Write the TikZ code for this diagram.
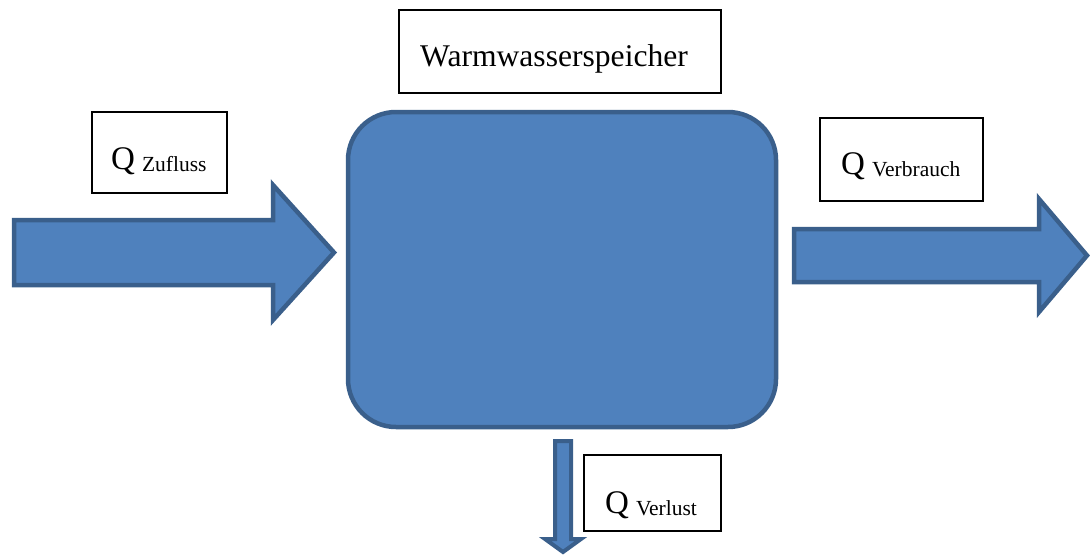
\documentclass[tikz,border=0pt]{standalone}
\usepackage{fontspec}
\setmainfont{Liberation Serif}
\definecolor{tankfill}{HTML}{4F81BD}
\definecolor{tankline}{HTML}{3A5F8B}
\tikzset{
  flow/.style={fill=tankfill, draw=tankline, line width=4.5pt, line join=miter},
  labelbox/.style={draw=black, line width=1.6pt, fill=white, inner sep=0pt},
  bigq/.style={font=\fontsize{33}{33}\selectfont, inner sep=0pt, anchor=base west},
}
\newcommand{\qsub}[1]{Q\hspace{7pt}{\fontsize{21.5}{21.5}\selectfont\raisebox{-2pt}{#1}}}
\begin{document}
\begin{tikzpicture}[x=1pt,y=-1pt]
\useasboundingbox (0,0) rectangle (1092,555);
% storage tank
\draw[flow, rounded corners=48pt] (348,112) rectangle (776,427);
\node[inner sep=0pt, minimum width=428pt, minimum height=315pt] (tank) at (562,269.5) {};
% inflow arrow
\draw[flow] (14,220) -- (273,220) -- (273,185) -- (334,252.5) -- (273,320) -- (273,285) -- (14,285) -- cycle;
% outflow arrow
\draw[flow] (794,229) -- (1039,229) -- (1039,199) -- (1087,255.5) -- (1039,312) -- (1039,282) -- (794,282) -- cycle;
% loss arrow
\draw[flow, line width=4pt] (555,441) -- (571,441) -- (571,539) -- (581,539) -- (563,552) -- (545,539) -- (555,539) -- cycle;
% label boxes
\node[labelbox, minimum width=322pt, minimum height=83pt] (title) at (560,51.5) {};
\node[inner sep=0pt, anchor=base west, font=\fontsize{31.6}{31.6}\selectfont] (titletext) at (420,66) {Warmwasserspeicher};
\node[labelbox, minimum width=135pt, minimum height=81pt] (zbox) at (159.5,152.5) {};
\node[bigq] (ztext) at (111,169.5) {\qsub{Zufluss}};
\node[labelbox, minimum width=163pt, minimum height=83pt] (vbox) at (901.5,159.5) {};
\node[bigq] (vtext) at (841,174) {\qsub{Verbrauch}};
\node[labelbox, minimum width=137pt, minimum height=76pt] (lbox) at (652.5,493) {};
\node[bigq] (ltext) at (605,513.5) {\qsub{Verlust}};
\end{tikzpicture}
\end{document}
